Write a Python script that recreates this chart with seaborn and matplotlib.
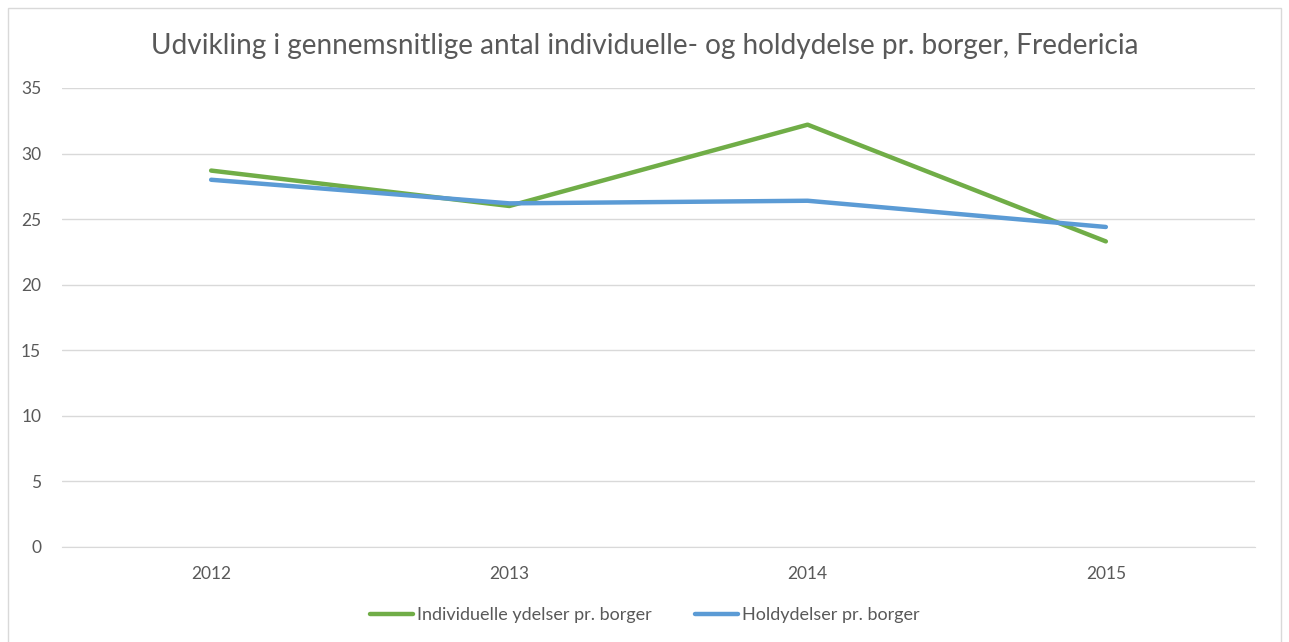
import matplotlib
matplotlib.use("Agg")
import matplotlib.pyplot as plt
import seaborn as sns
import pandas as pd
from matplotlib.patches import Rectangle

years = ["2012", "2013", "2014", "2015"]
individuelle = [28.7, 26.0, 32.2, 23.3]
holdydelser = [28.0, 26.2, 26.4, 24.4]
series_names = ["Individuelle ydelser pr. borger", "Holdydelser pr. borger"]
colors = ["#70AD47", "#5B9BD5"]
title = "Udvikling i gennemsnitlige antal individuelle- og holdydelse pr. borger, Fredericia"

df = pd.DataFrame({
    "år": years * 2,
    "værdi": individuelle + holdydelser,
    "serie": [series_names[0]] * 4 + [series_names[1]] * 4,
})

sns.set_style("white")
plt.rcParams["font.family"] = ["Lato", "DejaVu Sans"]

fig = plt.figure(figsize=(12.89, 6.42), dpi=100)
ax = fig.add_axes([0.0481, 0.148, 0.9255, 0.715])

sns.lineplot(data=df, x="år", y="værdi", hue="serie", hue_order=series_names,
             palette=colors, linewidth=3.2, ax=ax, legend=False, sort=False)

ax.set_xlim(-0.5, 3.5)
ax.set_ylim(0, 35)
ax.set_yticks(range(0, 36, 5))
ax.grid(axis="y", color="#D9D9D9", linewidth=1)
ax.set_axisbelow(True)
for s in ["top", "right", "left"]:
    ax.spines[s].set_visible(False)
ax.spines["bottom"].set_color("#D9D9D9")
ax.tick_params(axis="both", length=0, labelsize=12.5, labelcolor="#595959")
ax.tick_params(axis="x", pad=14)
ax.tick_params(axis="y", pad=15)
ax.set_xlabel("")
ax.set_ylabel("")

fig.text(0.5, 0.928, title, ha="center", va="center", fontsize=20.2, color="#595959")

handles = [plt.Line2D([], [], color=c, linewidth=3.2) for c in colors]
fig.legend(handles, series_names, loc="center", bbox_to_anchor=(0.5, 0.042), ncol=2,
           frameon=False, fontsize=13, labelcolor="#595959", handlelength=2.4,
           handletextpad=0.2, columnspacing=2.4)

fig.add_artist(Rectangle((8 / 1289, -0.01), 1273 / 1289, 1 - 8 / 642 + 0.01,
                         transform=fig.transFigure, fill=False,
                         edgecolor="#D9D9D9", linewidth=1))

fig.savefig("out.png", dpi=100)
